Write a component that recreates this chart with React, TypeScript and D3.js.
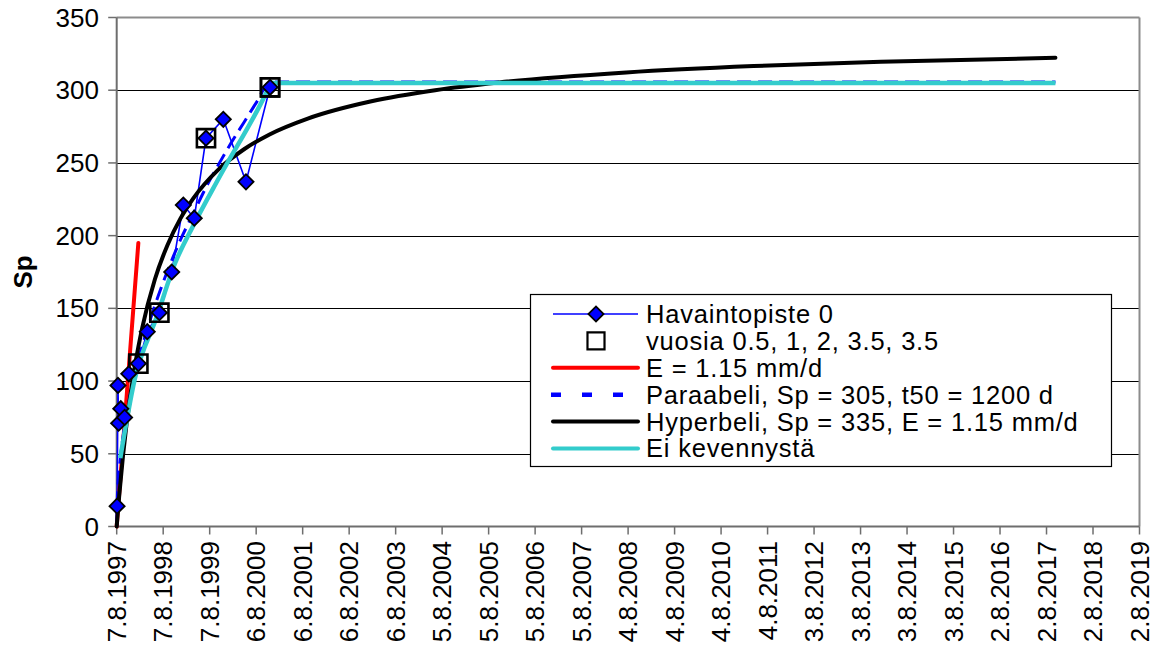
import React from "react";
import * as d3 from "d3";

// ---------- data ----------
const xTickLabels = [
  "7.8.1997", "7.8.1998", "7.8.1999", "6.8.2000", "6.8.2001", "6.8.2002",
  "6.8.2003", "5.8.2004", "5.8.2005", "5.8.2006", "5.8.2007", "4.8.2008",
  "4.8.2009", "4.8.2010", "4.8.2011", "3.8.2012", "3.8.2013", "3.8.2014",
  "3.8.2015", "2.8.2016", "2.8.2017", "2.8.2018", "2.8.2019",
];
const tickStepDays = 365;
const yTicks = [0, 50, 100, 150, 200, 250, 300, 350];

// Havaintopiste 0 (days since 7.8.1997, Sp)
const obsDays = [3, 10, 15, 32, 62, 95, 170, 240, 335, 432, 523, 609, 701, 837, 1015, 1204];
const obsSp = [14, 97, 71, 81, 75, 105, 112, 134, 147, 175, 221, 212, 267, 280, 237, 302];

// vuosia 0.5, 1, 2, 3.5, 3.5
const yearDays = [170, 335, 701, 1204, 1204];
const yearSp = [112, 147, 267, 302, 302];

// E = 1.15 mm/d
const evapDays = [0, 170];
const evapSp = [0, 195];

// Paraabeli, Sp = 305, t50 = 1200 d
const paraDays = [0, 5, 15, 30, 60, 100, 150, 200, 300, 400, 500, 600, 700, 800, 900, 1000, 1100, 1204, 7370];
const paraSp = [0, 20, 34, 48, 68, 88, 108, 124, 152, 176, 197, 215, 233, 249, 264, 278, 292, 305.6, 305.6];

// Hyperbeli, Sp = 335, E = 1.15 mm/d
const hyperDays = [0, 5, 20, 50, 100, 150, 200, 300, 400, 500, 600, 800, 1000, 1200, 1500, 2000, 2500, 3000, 4000, 5000, 6000, 7370];
const hyperSp = [0, 5.7, 21.5, 49.1, 85.6, 113.9, 136.4, 170.0, 193.8, 211.7, 225.5, 245.6, 259.4, 269.6, 280.5, 292.4, 300.0, 305.3, 312.2, 316.6, 319.5, 322.3];

// Ei kevennystä
const noUnloadDays = [28, 141, 314, 458, 602, 811, 1178, 1210, 7370];
const noUnloadSp = [47, 101, 144, 181, 207, 241, 299, 305, 305];

const legendLabels = [
  "Havaintopiste 0",
  "vuosia 0.5, 1, 2, 3.5, 3.5",
  "E = 1.15 mm/d",
  "Paraabeli, Sp = 305, t50 = 1200 d",
  "Hyperbeli, Sp = 335, E = 1.15 mm/d",
  "Ei kevennystä",
];

const FONT = "'Liberation Sans', Arial, sans-serif";
const BLUE = "#0000FF";
const RED = "#FF0000";
const CYAN = "#33CCCC";

export default function App() {
  const left = 116.7, right = 1139.5, top = 17.5, bottom = 526.5;
  const x = d3.scaleLinear().domain([0, (xTickLabels.length - 1) * tickStepDays]).range([left, right]);
  const y = d3.scaleLinear().domain([0, 350]).range([bottom, top]);

  const mkLine = (days: number[], vals: number[], curve: d3.CurveFactory) =>
    d3.line<number>().x((_, i) => x(days[i])).y((_, i) => y(vals[i])).curve(curve)(vals.map((v) => v)) || "";

  const obsPath = mkLine(obsDays, obsSp, d3.curveLinear);
  const evapPath = mkLine(evapDays, evapSp, d3.curveLinear);
  const paraPath = mkLine(paraDays, paraSp, d3.curveMonotoneX);
  const hyperPath = mkLine(hyperDays, hyperSp, d3.curveMonotoneX);
  const noUnloadPath = mkLine(noUnloadDays, noUnloadSp, d3.curveMonotoneX);

  const diamond = d3.symbol(d3.symbolSquare, 115)() || "";
  const square = d3.symbol(d3.symbolSquare, 330)() || "";
  const legSquare = d3.symbol(d3.symbolSquare, 290)() || "";

  const legX0 = 553, legX1 = 638, legMid = 596, legText = 646;
  const legY0 = 314, legDy = 26.9;

  return (
    <svg width={1157} height={652} style={{ position: "absolute", left: 0, top: 0, background: "#fff" }} fontFamily={FONT}>
      <rect x={0} y={0} width={1157} height={652} fill="#fff" />
      {/* gridlines */}
      {yTicks.filter((t) => t > 0 && t < 350).map((t) => (
        <line key={t} x1={left} x2={right} y1={Math.round(y(t)) + 0.5} y2={Math.round(y(t)) + 0.5} stroke="#000" strokeWidth={1} />
      ))}
      {/* plot border */}
      <line x1={left} x2={right} y1={top} y2={top} stroke="#8c8c8c" strokeWidth={2} />
      <line x1={right} x2={right} y1={top} y2={bottom} stroke="#8c8c8c" strokeWidth={2} />
      <line x1={left} x2={left} y1={top} y2={bottom} stroke="#6e6e6e" strokeWidth={2} />
      <line x1={left} x2={right} y1={bottom} y2={bottom} stroke="#6e6e6e" strokeWidth={2} />
      {/* y ticks */}
      {yTicks.map((t) => (
        <g key={t}>
          <line x1={left - 8.5} x2={left} y1={y(t)} y2={y(t)} stroke="#6e6e6e" strokeWidth={1.5} />
          <text x={99} y={y(t)} dy="0.35em" textAnchor="end" fontSize={26} fill="#000">{t}</text>
        </g>
      ))}
      {/* x ticks */}
      {xTickLabels.map((lab, i) => {
        const xx = x(i * tickStepDays);
        return (
          <g key={lab}>
            <line x1={xx} x2={xx} y1={bottom} y2={bottom + 8} stroke="#6e6e6e" strokeWidth={1.5} />
            <text transform={`translate(${xx},${541}) rotate(-90)`} dy="0.35em" textAnchor="end" fontSize={26} fill="#000">{lab}</text>
          </g>
        );
      })}
      {/* y label */}
      <text transform="translate(23,272) rotate(-90)" dy="0.35em" textAnchor="middle" fontSize={26} fontWeight="bold" fill="#000">Sp</text>

      {/* series */}
      <path d={obsPath} fill="none" stroke={BLUE} strokeWidth={1.6} />
      <path d={evapPath} fill="none" stroke={RED} strokeWidth={4} strokeLinecap="round" />
      <path d={paraPath} fill="none" stroke={BLUE} strokeWidth={3} strokeDasharray="14,7" />
      <path d={hyperPath} fill="none" stroke="#000" strokeWidth={4} strokeLinecap="round" />
      <path d={noUnloadPath} fill="none" stroke={CYAN} strokeWidth={4.5} />
      {yearDays.map((d, i) => (
        <path key={"s" + i} d={square} transform={`translate(${x(d)},${y(yearSp[i])})`} fill="none" stroke="#000" strokeWidth={2.6} />
      ))}
      {obsDays.map((d, i) => (
        <path key={"d" + i} d={diamond} transform={`translate(${x(d)},${y(obsSp[i])}) rotate(45)`} fill={BLUE} stroke="#000" strokeWidth={1.8} />
      ))}

      {/* legend */}
      <rect x={530.5} y={294.5} width={581} height={172} fill="#fff" stroke="#000" strokeWidth={1.2} />
      <line x1={legX0} x2={legX1} y1={legY0} y2={legY0} stroke={BLUE} strokeWidth={1.6} />
      <path d={diamond} transform={`translate(${legMid},${legY0}) rotate(45)`} fill={BLUE} stroke="#000" strokeWidth={1.8} />
      <path d={legSquare} transform={`translate(${legMid},${legY0 + legDy})`} fill="none" stroke="#000" strokeWidth={2.2} />
      <line x1={legX0} x2={legX1} y1={legY0 + 2 * legDy} y2={legY0 + 2 * legDy} stroke={RED} strokeWidth={4} strokeLinecap="round" />
      <line x1={legX0 - 2} x2={legX1} y1={legY0 + 3 * legDy} y2={legY0 + 3 * legDy} stroke={BLUE} strokeWidth={4.5} strokeDasharray="10,21" />
      <line x1={legX0} x2={legX1} y1={legY0 + 4 * legDy} y2={legY0 + 4 * legDy} stroke="#000" strokeWidth={4} strokeLinecap="round" />
      <line x1={legX0} x2={legX1} y1={legY0 + 5 * legDy} y2={legY0 + 5 * legDy} stroke={CYAN} strokeWidth={4} strokeLinecap="round" />
      {legendLabels.map((l, i) => (
        <text key={l} x={legText} y={legY0 + i * legDy} dy="0.35em" fontSize={25.5} letterSpacing={0.8} fill="#000">{l}</text>
      ))}
    </svg>
  );
}
